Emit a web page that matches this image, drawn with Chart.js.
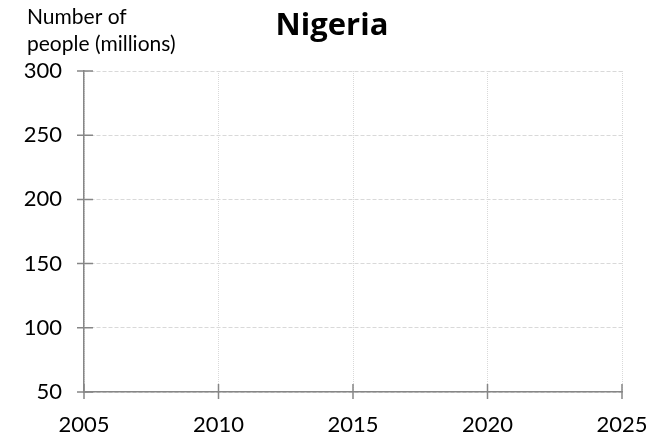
<!DOCTYPE html>
<html>
<head>
<meta charset="utf-8">
<script src="https://cdn.jsdelivr.net/npm/chart.js@4"></script>
<style>
  html, body { margin: 0; padding: 0; background: #fff; }
  #wrap { width: 665px; height: 440px; position: relative; }
</style>
</head>
<body>
<div id="wrap"><canvas id="c" width="665" height="440"></canvas></div>
<script>
// Data (the reference chart contains no plotted series)
const chartTitle = "Nigeria";
const yAxisTitle = ["Number of", "people (millions)"];
const years = [];        // no data points shown
const population = [];   // no data points shown
const xTicks = [2005, 2010, 2015, 2020, 2025];
const yTicks = [50, 100, 150, 200, 250, 300];

const FONT = "Lato, 'Open Sans', 'Liberation Sans', sans-serif";
const AXIS = '#868686';
const GRID = '#d9d9d9';

const crossTicks = {
  id: 'crossTicks',
  afterDraw(chart) {
    const ctx = chart.ctx;
    const xs = chart.scales.x, ys = chart.scales.y;
    const ca = chart.chartArea;
    ctx.save();
    ctx.strokeStyle = AXIS;
    ctx.lineWidth = 1.5;
    ctx.setLineDash([]);
    ctx.beginPath();
    xs.ticks.forEach(t => {
      const px = xs.getPixelForValue(t.value);
      ctx.moveTo(px, ca.bottom + 7);
      ctx.lineTo(px, ca.bottom - 8);
    });
    ys.ticks.forEach(t => {
      const py = ys.getPixelForValue(t.value);
      ctx.moveTo(ca.left - 7, py);
      ctx.lineTo(ca.left + 9, py);
    });
    ctx.stroke();
    // texts
    ctx.fillStyle = '#000';
    ctx.textBaseline = 'alphabetic';
    ctx.textAlign = 'left';
    ctx.font = "21px " + FONT;
    ctx.fillText(yAxisTitle[0], 27, 24);
    ctx.fillText(yAxisTitle[1], 27, 51);
    ctx.textAlign = 'center';
    ctx.font = "bold 31px 'Open Sans', Lato, sans-serif";
    ctx.fillText(chartTitle, 332, 35);
    ctx.restore();
  }
};

new Chart(document.getElementById('c'), {
  type: 'scatter',
  data: {
    datasets: [{
      data: years.map((y, i) => ({ x: y, y: population[i] })),
      showLine: true
    }]
  },
  options: {
    responsive: false,
    animation: false,
    layout: { padding: { top: 71, right: 43, bottom: 0, left: 0 } },
    plugins: { legend: { display: false }, tooltip: { enabled: false }, title: { display: false } },
    scales: {
      x: {
        type: 'linear',
        min: xTicks[0], max: xTicks[xTicks.length - 1],
        afterBuildTicks: s => { s.ticks = xTicks.map(v => ({ value: v })); },
        afterFit: s => { s.height = 48; s.paddingLeft = 0; s.paddingRight = 0; },
        ticks: { color: '#000', font: { family: FONT, size: 22 }, padding: 20, maxRotation: 0,
                 callback: v => String(v) },
        grid: { color: GRID, lineWidth: 1, drawTicks: false },
        border: { display: true, color: AXIS, width: 1.5, dash: [1, 1] }
      },
      y: {
        min: yTicks[0], max: yTicks[yTicks.length - 1],
        afterBuildTicks: s => { s.ticks = yTicks.map(v => ({ value: v })); },
        afterFit: s => { s.width = 84; s.paddingTop = 0; s.paddingBottom = 0; },
        ticks: { color: '#000', font: { family: FONT, size: 22 }, padding: 22 },
        grid: { color: GRID, lineWidth: 1, drawTicks: false },
        border: { display: true, color: AXIS, width: 1.5, dash: [4, 2] }
      }
    }
  },
  plugins: [crossTicks]
});
</script>
</body>
</html>
